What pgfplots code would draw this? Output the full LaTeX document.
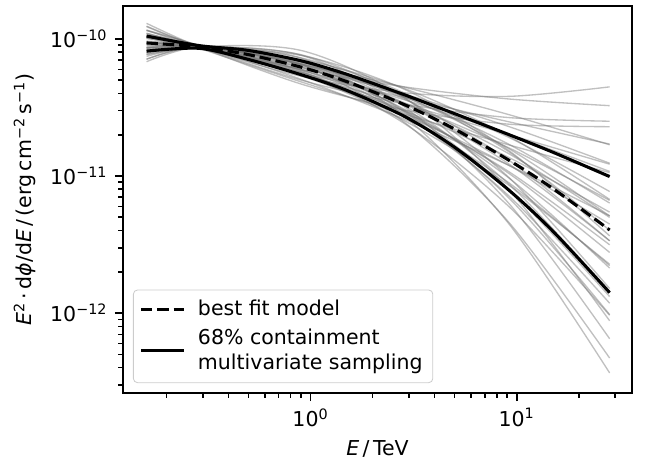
\documentclass[border=0pt]{standalone}
\usepackage{fontspec}
\setmainfont{DejaVu Sans}
\usepackage{pgfplots}
\usepackage{pgfplotstable}
\pgfplotsset{compat=1.18}

% sampled spectra, one column per sample (E in TeV, E^2 dphi/dE in erg cm^-2 s^-1)
\pgfplotstableread{
E g1 g2 g3 g4 g5 g6 g7 g8 g9 g10 g11 g12 g13 g14 g15 g16 g17 g18 g19 g20 g21 g22 g23 g24 g25 g26 g27 g28 g29 g30 g31 g32 g33 g34 g35 g36 g37 g38
0.16 1.24e-10 7.11e-11 1.16e-10 7.67e-11 1.10e-10 8.22e-11 1.01e-10 8.60e-11 1.03e-10 8.62e-11 9.50e-11 9.32e-11 1.16e-10 7.46e-11 1.03e-10 8.54e-11 1.05e-10 8.62e-11 9.43e-11 8.96e-11 1.15e-10 7.73e-11 1.01e-10 8.74e-11 9.27e-11 9.35e-11 1.08e-10 7.99e-11 1.30e-10 6.82e-11 1.03e-10 8.40e-11 1.10e-10 7.85e-11 9.64e-11 9.09e-11 1.23e-10 7.12e-11
0.2884 8.75e-11 8.75e-11 8.95e-11 8.55e-11 8.75e-11 8.95e-11 8.55e-11 8.75e-11 8.95e-11 8.55e-11 8.75e-11 8.95e-11 8.55e-11 8.75e-11 8.95e-11 8.55e-11 8.75e-11 8.95e-11 8.55e-11 8.75e-11 8.95e-11 8.55e-11 8.75e-11 8.95e-11 8.55e-11 8.75e-11 8.95e-11 8.55e-11 8.75e-11 8.75e-11 8.95e-11 8.55e-11 8.75e-11 8.75e-11 8.95e-11 8.55e-11 8.75e-11 8.75e-11
0.912 4.98e-11 7.57e-11 5.04e-11 7.55e-11 5.65e-11 6.82e-11 5.47e-11 6.80e-11 6.51e-11 5.79e-11 6.18e-11 6.44e-11 4.83e-11 7.63e-11 5.96e-11 6.27e-11 5.35e-11 7.24e-11 5.70e-11 6.67e-11 5.49e-11 6.90e-11 6.16e-11 6.40e-11 5.66e-11 6.54e-11 5.87e-11 6.56e-11 4.66e-11 8.20e-11 5.49e-11 7.06e-11 5.98e-11 6.47e-11 6.50e-11 5.91e-11 5.32e-11 7.19e-11
2.884 3.35e-11 3.16e-11 2.58e-11 4.26e-11 3.72e-11 2.91e-11 2.97e-11 3.61e-11 4.43e-11 2.39e-11 3.40e-11 3.33e-11 2.81e-11 3.68e-11 3.36e-11 3.04e-11 2.76e-11 4.00e-11 2.86e-11 3.78e-11 3.33e-11 3.23e-11 3.94e-11 2.77e-11 2.67e-11 3.95e-11 3.58e-11 2.98e-11 3.02e-11 3.69e-11 2.51e-11 4.32e-11 4.46e-11 2.43e-11 3.75e-11 2.94e-11 4.04e-11 2.68e-11
9.12 2.67e-11 6.36e-12 1.20e-11 1.54e-11 2.49e-11 6.97e-12 1.37e-11 1.31e-11 2.81e-11 6.03e-12 1.46e-11 1.23e-11 1.69e-11 9.81e-12 1.61e-11 9.74e-12 1.20e-11 1.51e-11 1.08e-11 1.59e-11 2.01e-11 8.79e-12 2.30e-11 7.21e-12 8.97e-12 1.92e-11 2.02e-11 8.01e-12 2.39e-11 8.02e-12 8.61e-12 1.96e-11 3.65e-11 4.63e-12 1.71e-11 1.05e-11 3.81e-11 4.52e-12
28.25 2.51e-11 6.50e-13 5.13e-12 3.66e-12 1.71e-11 9.75e-13 5.45e-12 3.37e-12 1.69e-11 9.64e-13 4.99e-12 3.37e-12 1.06e-11 1.51e-12 6.64e-12 2.13e-12 4.46e-12 4.02e-12 3.15e-12 5.11e-12 1.22e-11 1.44e-12 1.24e-11 1.18e-12 2.22e-12 7.71e-12 1.08e-11 1.32e-12 2.29e-11 8.79e-13 2.27e-12 6.75e-12 3.26e-11 4.70e-13 6.35e-12 2.77e-12 4.47e-11 3.66e-13
}\samples

% best fit and 68% containment
\pgfplotstableread{
E fit up lo
0.16 9.35e-11 1.05e-10 8.15e-11
0.2884 8.75e-11 8.94e-11 8.54e-11
0.5 7.68e-11 8.24e-11 7.08e-11
0.912 6.19e-11 6.89e-11 5.45e-11
1.5 4.88e-11 5.52e-11 4.21e-11
2.884 3.29e-11 3.89e-11 2.70e-11
5 2.20e-11 2.85e-11 1.62e-11
9.12 1.31e-11 2.01e-11 7.94e-12
15 8.09e-12 1.49e-11 3.95e-12
28.25 4.04e-12 9.91e-12 1.41e-12
}\band

\begin{document}
\begin{tikzpicture}
\begin{axis}[
    scale only axis,
    width=248.3pt, height=188.8pt,
    xmode=log, ymode=log,
    xmin=0.123, xmax=36.3,
    ymin=2.61e-13, ymax=1.74e-10,
    axis line style={line width=0.8pt},
    tick style={black, line width=0.8pt},
    major tick length=4pt, minor tick length=2.4pt,
    tick align=outside,
    xtick pos=bottom, ytick pos=left,
    xtick={1,10},
    xticklabels={10\textsuperscript{0}, 10\textsuperscript{1}},
    minor xtick={0.2,0.3,0.4,0.5,0.6,0.7,0.8,0.9,2,3,4,5,6,7,8,9,20,30},
    ytick={1e-12,1e-11,1e-10},
    yticklabels={10\textsuperscript{−12}, 10\textsuperscript{−11}, 10\textsuperscript{−10}},
    minor ytick={3e-13,4e-13,5e-13,6e-13,7e-13,8e-13,9e-13,
                 2e-12,3e-12,4e-12,5e-12,6e-12,7e-12,8e-12,9e-12,
                 2e-11,3e-11,4e-11,5e-11,6e-11,7e-11,8e-11,9e-11},
    xlabel={\textit{E}\,/\,TeV},
    ylabel={\textit{E}\textsuperscript{2}\,·\,d\textit{ϕ}/d\textit{E}\,/\,(erg\,cm\textsuperscript{−2}\,s\textsuperscript{−1})},
    legend cell align=left,
    legend image code/.code={\draw[#1] (0pt,0pt) -- (21pt,0pt);},
    legend style={at={(0.0196,0.0258)}, anchor=south west,
        draw=black!20, rounded corners=2pt, fill=white,
        inner xsep=3pt, inner ysep=3pt, row sep=1pt,
        cells={anchor=west, align=left},
        /tikz/every odd column/.append style={column sep=4pt}},
    grayline/.style={black!55, opacity=0.45, line width=0.65pt, smooth, forget plot},
]
\pgfplotsinvokeforeach{1,...,38}{
  \addplot[grayline] table[x=E, y=g#1] {\samples};
}
\addplot[black, line width=1.5pt, dash pattern=on 5.55pt off 2.4pt, smooth]
  table[x=E, y=fit] {\band};
\addlegendentry{best fit model}
\addplot[black, line width=1.5pt, smooth] table[x=E, y=up] {\band};
\addlegendentry{68\% containment\\multivariate sampling}
\addplot[black, line width=1.5pt, smooth, forget plot] table[x=E, y=lo] {\band};
\end{axis}
\path (current axis.south west) ++(-60pt,-33.2pt);
\path (current axis.north east) ++(6.3pt,2.9pt);
\end{tikzpicture}
\end{document}
